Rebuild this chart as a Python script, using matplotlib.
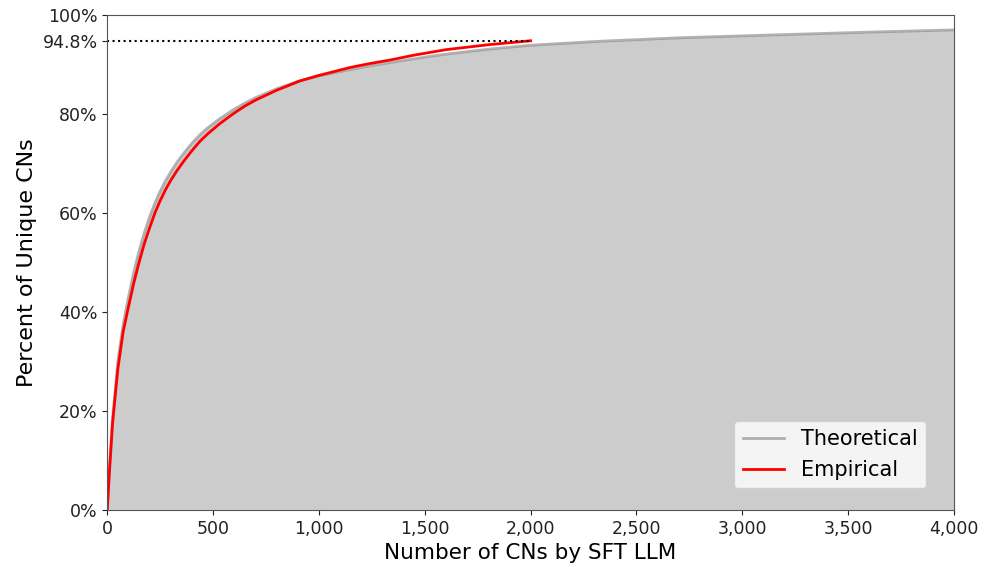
import numpy as np
import matplotlib
matplotlib.use("Agg")
import matplotlib.pyplot as plt
from matplotlib.ticker import FuncFormatter

# theoretical curve, x = number of CNs, y = % unique
theo_x = [0, 10, 25, 50, 75, 100, 125, 150, 175, 200, 225, 250, 275, 300,
          330, 360, 400, 440, 480, 530, 600, 650, 700, 800, 900, 1000, 1150,
          1250, 1350, 1500, 1600, 1800, 2000, 2327, 2700, 3160, 3600, 4000]
theo_y = [0, 8.5, 18.5, 30, 37.5, 43, 48, 52.3, 56, 59.2, 62, 64.4, 66.5, 68.3,
          70.3, 72, 74.1, 75.9, 77.4, 79, 81, 82.2, 83.3, 85.1, 86.6, 87.7, 89.0,
          89.8, 90.5, 91.5, 92.1, 93.1, 93.9, 94.7, 95.4, 96.0, 96.55, 97.0]

# empirical curve
emp_x = [0, 10, 25, 50, 75, 100, 125, 150, 175, 200, 225, 250, 275, 300,
         330, 360, 400, 440, 480, 530, 600, 650, 700, 800, 911, 1000, 1147,
         1241, 1335, 1450, 1600, 1800, 2000]
emp_y = [0, 7.5, 17.5, 28.5, 36, 41, 45.8, 50, 53.8, 57, 60, 62.5, 64.7, 66.6,
         68.6, 70.4, 72.6, 74.6, 76.2, 78, 80.2, 81.6, 82.8, 84.8, 86.7, 87.8, 89.4,
         90.2, 90.9, 91.9, 93.0, 94.0, 94.8]

final_pct = 94.8
ytick_vals = [0, 20, 40, 60, 80, final_pct, 100]
ytick_labels = ["0%", "20%", "40%", "60%", "80%", "94.8%", "100%"]
xtick_vals = [0, 500, 1000, 1500, 2000, 2500, 3000, 3500, 4000]

fig = plt.figure(figsize=(9.84, 5.67), dpi=100)
ax = fig.add_axes([0.109, 0.1005, 0.8605, 0.873])

ax.fill_between(theo_x, 0, theo_y, color="#cccccc", linewidth=0)
ax.plot(theo_x, theo_y, color="gray", alpha=0.6, linewidth=2, label="Theoretical")
ax.plot(emp_x, emp_y, color="red", linewidth=2, label="Empirical")
ax.plot([0, emp_x[-1]], [final_pct, final_pct], color="black", linestyle=":", linewidth=1.5)

ax.set_xlim(0, 4000)
ax.set_ylim(0, 100)
ax.set_xticks(xtick_vals)
ax.xaxis.set_major_formatter(FuncFormatter(lambda v, p: f"{int(v):,}"))
ax.set_yticks(ytick_vals)
ax.set_yticklabels(ytick_labels)
ax.tick_params(labelsize=12.5, colors="#222222")

ax.set_xlabel("Number of CNs by SFT LLM", fontsize=15.5)
ax.set_ylabel("Percent of Unique CNs", fontsize=16)

for s in ax.spines.values():
    s.set_color("#555555")

ax.legend(loc="lower right", fontsize=15, borderaxespad=0,
          bbox_to_anchor=(0.967, 0.044))

fig.savefig("out.png", dpi=100)
